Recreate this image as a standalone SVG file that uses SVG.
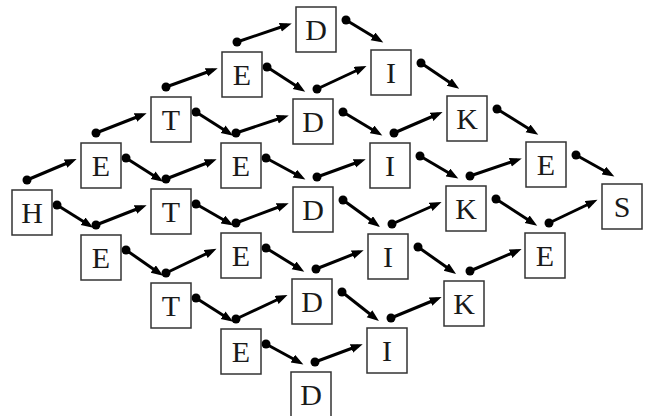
<svg xmlns="http://www.w3.org/2000/svg" width="645" height="416" viewBox="0 0 645 416">
  <defs>
    <style>
      .box rect { fill: #fff; stroke: #333; stroke-width: 1.5; }
      .box text { font-family: "Liberation Serif", "Times New Roman", serif; font-size: 30px; fill: #1a1a1a; text-anchor: middle; }
      #connectors line { stroke: #000; stroke-width: 3; marker-start: url(#dot); marker-end: url(#head); }
    </style>
    <marker id="head" markerUnits="userSpaceOnUse" markerWidth="13" markerHeight="10" refX="7" refY="4.5" orient="auto">
      <path d="M0,0 L12,4.5 L0,9 z" fill="#000"/>
    </marker>
    <marker id="dot" markerUnits="userSpaceOnUse" markerWidth="10" markerHeight="10" refX="5" refY="5">
      <circle cx="5" cy="5" r="4.5" fill="#000"/>
    </marker>
  </defs>

  <rect width="645" height="416" fill="#fff"/>

  <g id="connectors">
    <!-- column 0 to 1 -->
    <line x1="27" y1="180" x2="72" y2="161"/>
    <line x1="57" y1="205" x2="89" y2="225"/>
    <!-- column 1 to 2 -->
    <line x1="96" y1="133" x2="142" y2="115"/>
    <line x1="126" y1="158" x2="159" y2="179"/>
    <line x1="96" y1="225" x2="142" y2="207"/>
    <line x1="126" y1="250" x2="159" y2="273"/>
    <!-- column 2 to 3 -->
    <line x1="166" y1="87" x2="213" y2="70"/>
    <line x1="196" y1="112" x2="229" y2="133"/>
    <line x1="166" y1="179" x2="212" y2="161"/>
    <line x1="196" y1="204" x2="229" y2="223"/>
    <line x1="166" y1="273" x2="212" y2="251"/>
    <line x1="196" y1="298" x2="229" y2="319"/>
    <!-- column 3 to 4 -->
    <line x1="237" y1="42" x2="287" y2="25"/>
    <line x1="267" y1="67" x2="301" y2="89"/>
    <line x1="236" y1="133" x2="284" y2="117"/>
    <line x1="266" y1="158" x2="301" y2="177"/>
    <line x1="236" y1="223" x2="284" y2="205"/>
    <line x1="266" y1="248" x2="300" y2="269"/>
    <line x1="236" y1="319" x2="283" y2="297"/>
    <line x1="266" y1="344" x2="299" y2="362"/>
    <!-- column 4 to 5 -->
    <line x1="346" y1="20" x2="379" y2="40"/>
    <line x1="317" y1="89" x2="362" y2="68"/>
    <line x1="343" y1="112" x2="378" y2="133"/>
    <line x1="317" y1="177" x2="361" y2="161"/>
    <line x1="343" y1="200" x2="376" y2="224"/>
    <line x1="316" y1="269" x2="359" y2="252"/>
    <line x1="342" y1="292" x2="375" y2="318"/>
    <line x1="315" y1="362" x2="358" y2="346"/>
    <!-- column 5 to 6 -->
    <line x1="421" y1="63" x2="455" y2="86"/>
    <line x1="394" y1="133" x2="438" y2="114"/>
    <line x1="420" y1="156" x2="454" y2="176"/>
    <line x1="392" y1="224" x2="437" y2="204"/>
    <line x1="418" y1="247" x2="452" y2="271"/>
    <line x1="391" y1="318" x2="437" y2="299"/>
    <!-- column 6 to 7 -->
    <line x1="497" y1="109" x2="534" y2="132"/>
    <line x1="470" y1="176" x2="517" y2="160"/>
    <line x1="496" y1="199" x2="533" y2="223"/>
    <line x1="470" y1="271" x2="517" y2="251"/>
    <!-- column 7 to 8 -->
    <line x1="576" y1="155" x2="610" y2="174"/>
    <line x1="549" y1="223" x2="593" y2="202"/>
  </g>

  <g id="n-h" class="box"><rect x="12" y="190" width="40" height="45"/><text x="32" y="223">H</text></g>

  <g id="n-e1a" class="box"><rect x="81" y="143" width="40" height="45"/><text x="101" y="176">E</text></g>
  <g id="n-e1b" class="box"><rect x="81" y="235" width="40" height="45"/><text x="101" y="268">E</text></g>

  <g id="n-t2a" class="box"><rect x="151" y="97" width="40" height="45"/><text x="171" y="130">T</text></g>
  <g id="n-t2b" class="box"><rect x="151" y="189" width="40" height="45"/><text x="171" y="222">T</text></g>
  <g id="n-t2c" class="box"><rect x="151" y="283" width="40" height="45"/><text x="171" y="316">T</text></g>

  <g id="n-e3a" class="box"><rect x="222" y="52" width="40" height="45"/><text x="242" y="85">E</text></g>
  <g id="n-e3b" class="box"><rect x="221" y="143" width="40" height="45"/><text x="241" y="176">E</text></g>
  <g id="n-e3c" class="box"><rect x="221" y="233" width="40" height="45"/><text x="241" y="266">E</text></g>
  <g id="n-e3d" class="box"><rect x="221" y="329" width="40" height="45"/><text x="241" y="362">E</text></g>

  <g id="n-d4a" class="box"><rect x="296" y="7" width="40" height="45"/><text x="316" y="40">D</text></g>
  <g id="n-d4b" class="box"><rect x="293" y="99" width="40" height="45"/><text x="313" y="132">D</text></g>
  <g id="n-d4c" class="box"><rect x="293" y="187" width="40" height="45"/><text x="313" y="220">D</text></g>
  <g id="n-d4d" class="box"><rect x="292" y="279" width="40" height="45"/><text x="312" y="312">D</text></g>
  <g id="n-d4e" class="box"><rect x="291" y="372" width="40" height="45"/><text x="311" y="405">D</text></g>

  <g id="n-i5a" class="box"><rect x="371" y="50" width="40" height="45"/><text x="391" y="83">I</text></g>
  <g id="n-i5b" class="box"><rect x="370" y="143" width="40" height="45"/><text x="390" y="176">I</text></g>
  <g id="n-i5c" class="box"><rect x="368" y="234" width="40" height="45"/><text x="388" y="267">I</text></g>
  <g id="n-i5d" class="box"><rect x="367" y="328" width="40" height="45"/><text x="387" y="361">I</text></g>

  <g id="n-k6a" class="box"><rect x="447" y="96" width="40" height="45"/><text x="467" y="129">K</text></g>
  <g id="n-k6b" class="box"><rect x="446" y="186" width="40" height="45"/><text x="466" y="219">K</text></g>
  <g id="n-k6c" class="box"><rect x="444" y="281" width="40" height="45"/><text x="464" y="314">K</text></g>

  <g id="n-e7a" class="box"><rect x="526" y="142" width="40" height="45"/><text x="546" y="175">E</text></g>
  <g id="n-e7b" class="box"><rect x="525" y="233" width="40" height="45"/><text x="545" y="266">E</text></g>

  <g id="n-s" class="box"><rect x="602" y="184" width="40" height="45"/><text x="622" y="217">S</text></g>
</svg>
